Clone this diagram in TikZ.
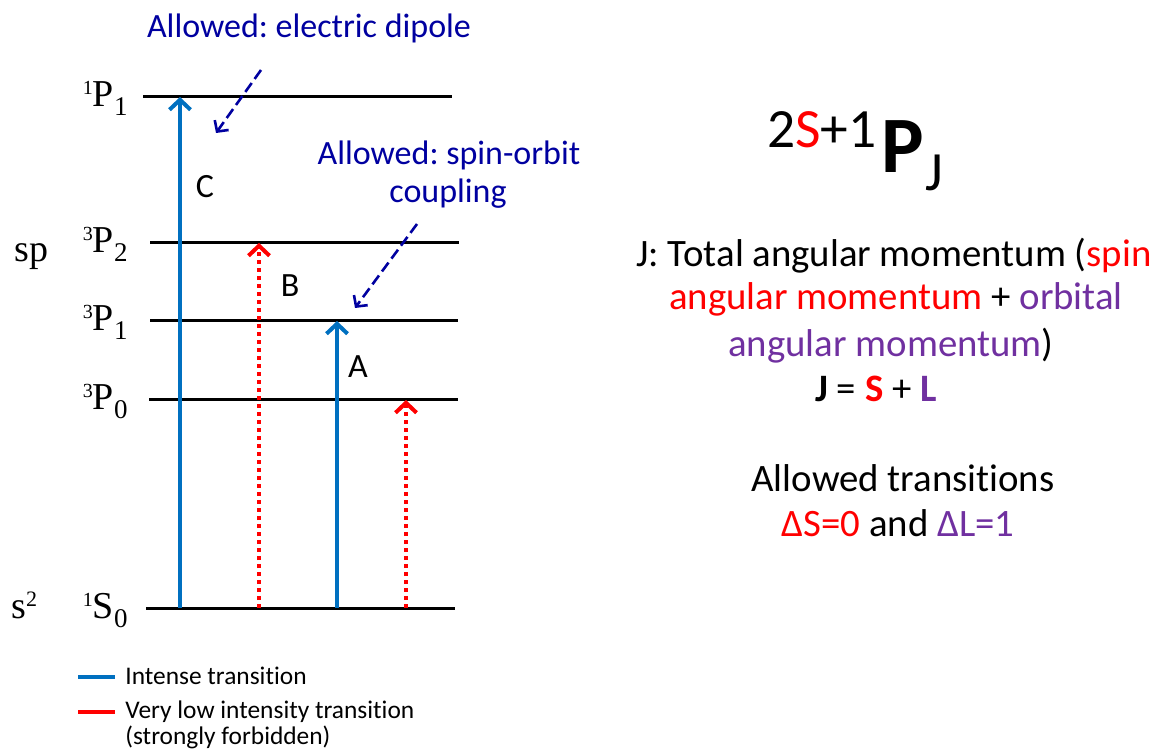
\documentclass[tikz,border=0pt]{standalone}
\usepackage{fontspec}
\setmainfont{Carlito}[Ligatures=NoCommon]
\newfontfamily\timesfont{Liberation Serif}
\usepackage{xcolor}
\usetikzlibrary{arrows.meta,calc,positioning}
\frenchspacing

\definecolor{ablue}{RGB}{0,112,192}
\definecolor{ared}{RGB}{255,0,0}
\definecolor{anote}{RGB}{0,0,160}
\definecolor{apurple}{RGB}{112,48,160}

% term symbol: ^{#1}#2_{#3}
\newcommand{\term}[3]{\raisebox{6pt}{\fontsize{10}{10}\selectfont #1}#2\raisebox{-4.5pt}{\fontsize{13.5}{14}\selectfont #3}}

\tikzset{
  level/.style={line width=1.5pt, black},
  intense/.style={ablue, line width=2pt, -{Straight Barb[length=5pt,width=10.5pt]}},
  forbid/.style={ared, line width=2pt, dash pattern=on 2pt off 2pt,
    -{Straight Barb[length=5pt,width=10.5pt]}},
  hint/.style={anote, line width=1.3pt, dash pattern=on 5.5pt off 2.5pt,
    -{Straight Barb[length=4pt,width=8.5pt]}},
  lvl/.style={inner sep=0pt, anchor=base east, font=\timesfont\fontsize{19}{21}\selectfont},
  txt/.style={inner sep=0pt, anchor=base},
  note/.style={txt, anote, font=\fontsize{17}{19}\selectfont},
  body/.style={txt, font=\fontsize{19.4}{22}\selectfont},
  tag/.style={font=\fontsize{17}{19}\selectfont},
  lgtext/.style={inner sep=0pt, anchor=base west, font=\fontsize{12.7}{14}\selectfont},
}

\begin{document}
\begin{tikzpicture}[x=0.5pt, y=-0.5pt]

    \useasboundingbox (0,0) rectangle (1158,754);

    % Levels
    \foreach \lv/\y/\xa/\xb in {P11/97/143/452, P32/243/150/459, P31/321/150/458,
                                P30/400/149/458, S10/608/146/455} {
        \coordinate (\lv-l) at (\xa,\y);
        \coordinate (\lv-r) at (\xb,\y);
        \draw[level] (\lv-l) -- (\lv-r);
    }

    \node[lvl] (P11-lbl) at (128,107) {\term{1}{P}{1}};
    \node[lvl] (P32-lbl) at (128,253) {\term{3}{P}{2}};
    \node[lvl] (P31-lbl) at (128,331) {\term{3}{P}{1}};
    \node[lvl] (P30-lbl) at (128,410) {\term{3}{P}{0}};
    \node[lvl] (S10-lbl) at (128,618) {\term{1}{S}{0}};

    \node[lvl, anchor=base west] (cfg1) at (14,262) {sp};
    \node[lvl, anchor=base west] (cfg0) at (11,618) {s\raisebox{6pt}{\fontsize{11}{11}\selectfont 2}};

    % Transitions
    \foreach \nm/\x/\top/\sty in {C/180/P11/intense, B/259/P32/forbid,
                                  A/337/P31/intense, D/406/P30/forbid} {
        \coordinate (x\nm) at (\x,0);
        \draw[\sty] (x\nm |- S10-l) -- (x\nm |- \top-l);
    }

    \node[tag] (lblC) at (205,187) {C};
    \node[tag] (lblB) at (290,286) {B};
    \node[tag] (lblA) at (358,367) {A};

    % Notes
    \node[note] (dip) at (309,38) {Allowed: electric dipole};
    \node[note] (soc1) at (449,165) {Allowed: spin-orbit};
    \node[note] (soc2) at (448,203) {coupling};

    \coordinate (dipS) at (261,70);
    \coordinate (dipE) at (216,133);
    \coordinate (socS) at (417,224);
    \coordinate (socE) at (355,308);
    \draw[hint] (dipS) -- (dipE);
    \draw[hint] (socS) -- (socE);

    % Legend
    \coordinate (lgA) at (78,677);
    \coordinate (lgB) at (115,677);
    \coordinate (lgC) at (78,712);
    \coordinate (lgD) at (115,712);
    \draw[ablue, line width=2.2pt] (lgA) -- (lgB);
    \draw[ared, line width=2.2pt] (lgC) -- (lgD);
    \node[lgtext] (lgI) at (125,684) {Intense transition};
    \node[lgtext] (lgF1) at (125,718) {Very low intensity transition};
    \node[lgtext] (lgF2) at (125,744) {(strongly forbidden)};

    % Term symbol
    \node[inner sep=0pt, anchor=base west, font=\fontsize{27.7}{30}\selectfont]
      (mult) at (767,148) {2\textcolor{ared}{S}+1};
    \node[inner sep=0pt, anchor=base west, font=\bfseries\fontsize{40}{42}\selectfont]
      (orb) at (881,173) {P};
    \node[inner sep=0pt, anchor=base west, font=\fontsize{27.7}{30}\selectfont]
      (jsub) at (925,191) {J};

    \node[body] (t1) at (894,267) {J: Total angular momentum (\textcolor{ared}{spin}};
    \node[body] (t2) at (896,310) {\textcolor{ared}{angular momentum} + \textcolor{apurple}{orbital}};
    \node[body] (t3) at (891,357) {\textcolor{apurple}{angular momentum})};
    \node[body] (t4) at (876,402) {\textbf{J} = \textcolor{ared}{\textbf{S}} + \textcolor{apurple}{\textbf{L}}};
    \node[body] (t5) at (903,492) {Allowed transitions};
    \node[body] (t6) at (898,537) {\textcolor{ared}{ΔS=0} and \textcolor{apurple}{ΔL=1}};

\end{tikzpicture}
\end{document}
